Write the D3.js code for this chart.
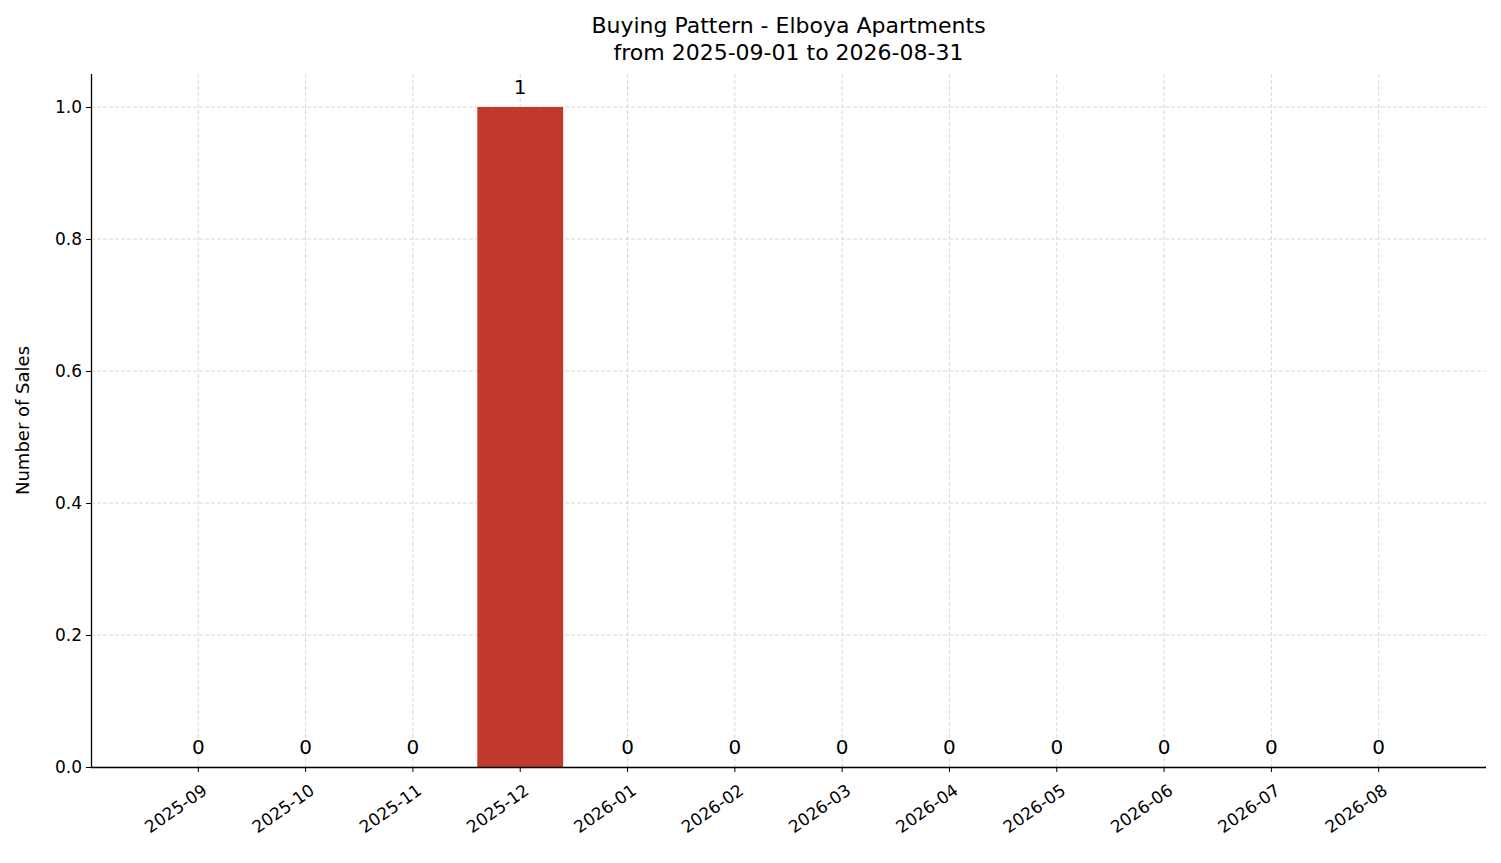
<!DOCTYPE html>
<html><head><meta charset="utf-8">
<script src="https://cdn.jsdelivr.net/npm/d3@7"></script>
<style>body{margin:0;background:#fff}svg text{font-family:"DejaVu Sans",sans-serif}</style>
</head><body><svg id="c" width="1501" height="863"></svg>
<script>
const months = ["2025-09","2025-10","2025-11","2025-12","2026-01","2026-02","2026-03","2026-04","2026-05","2026-06","2026-07","2026-08"];
const sales = [0,0,0,1,0,0,0,0,0,0,0,0];
const yTicks = [0,0.2,0.4,0.6,0.8,1.0];
const titleLines = ["Buying Pattern - Elboya Apartments","from 2025-09-01 to 2026-08-31"];

const svg = d3.select("#c");
const L=91,R=1486,T=74,B=767;
const x = d3.scaleBand().domain(months).range([L,R]).paddingInner(0.2).paddingOuter(0.6);
const y = d3.scaleLinear().domain([0,1.05]).range([B,T]);

const g = svg.append("g");
g.selectAll(".gy").data(yTicks).join("line").attr("x1",L).attr("x2",R)
 .attr("y1",d=>y(d)).attr("y2",d=>y(d)).attr("stroke","#cfcfcf").attr("stroke-dasharray","4,2").attr("stroke-width",0.8);
g.selectAll(".gx").data(months).join("line").attr("y1",T).attr("y2",B)
 .attr("x1",d=>x(d)+x.bandwidth()/2).attr("x2",d=>x(d)+x.bandwidth()/2).attr("stroke","#cfcfcf").attr("stroke-dasharray","4,2").attr("stroke-width",0.8);
g.selectAll("rect").data(months).join("rect").attr("x",d=>x(d)).attr("width",x.bandwidth())
 .attr("y",(d,i)=>y(sales[i])).attr("height",(d,i)=>B-y(sales[i])).attr("fill","#c0392b");
g.selectAll(".lbl").data(months).join("text").attr("x",d=>x(d)+x.bandwidth()/2)
 .attr("y",(d,i)=>y(sales[i])-13).attr("text-anchor","middle").style("font-size","20px").text((d,i)=>sales[i]);
const ya = svg.append("g").attr("transform",`translate(${L},0)`).call(d3.axisLeft(y).tickValues(yTicks).tickFormat(d3.format(".1f")).tickSizeOuter(0).tickSize(5));
ya.selectAll("text").style("font-size","17px").attr("fill","#000").attr("x",-9);
const xa = svg.append("g").attr("transform",`translate(0,${B})`).call(d3.axisBottom(x).tickSizeOuter(0).tickSize(5));
xa.select(".domain").attr("d",`M${L},0.5H${R}`);
ya.select(".domain").attr("d",`M0.5,${B}V${T}`);
svg.selectAll(".domain").attr("stroke-width",1.3);
xa.selectAll("text").style("font-size","17px").attr("fill","#000").attr("text-anchor","end")
 .attr("y",0).attr("dy","0").attr("transform","translate(10,26) rotate(-35)");
svg.append("text").attr("transform",`translate(29,${(T+B)/2}) rotate(-90)`).attr("text-anchor","middle").style("font-size","18px").text("Number of Sales");
svg.selectAll(".t").data(titleLines).join("text").attr("x",(L+R)/2).attr("y",(d,i)=>33+i*27)
 .attr("text-anchor","middle").style("font-size","22px").text(d=>d);
</script></body></html>
